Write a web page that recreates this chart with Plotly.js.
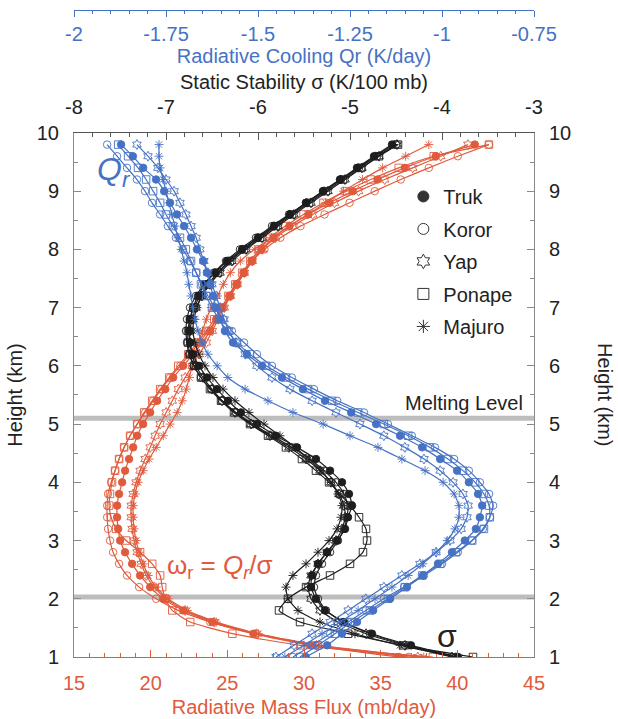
<!DOCTYPE html>
<html><head><meta charset="utf-8">
<script src="https://cdn.plot.ly/plotly-3.0.1.min.js"></script>
<style>html,body{margin:0;padding:0;background:#fff}#chart{width:618px;height:719px}</style>
</head><body><div id="chart"></div>
<script>
// Heights (km)
const heights = [1.0,1.2,1.4,1.6,1.8,2.0,2.2,2.4,2.6,2.8,3.0,3.2,3.4,3.6,3.8,4.0,4.2,4.4,4.6,4.8,5.0,5.2,5.4,5.6,5.8,6.0,6.2,6.4,6.6,6.8,7.0,7.2,7.4,7.6,7.8,8.0,8.2,8.4,8.6,8.8,9.0,9.2,9.4,9.6,9.8];
const stations = ['Truk','Koror','Yap','Ponape','Majuro'];
const stationSymbols = ['circle','circle-open','hexagram-open','square-open','asterisk-open'];

// Radiative cooling Qr (K/day)
const qrTruk = [-1.370,-1.312,-1.272,-1.231,-1.187,-1.141,-1.095,-1.052,-1.011,-0.973,-0.938,-0.908,-0.897,-0.891,-0.902,-0.927,-0.959,-1.005,-1.054,-1.114,-1.179,-1.247,-1.318,-1.378,-1.435,-1.489,-1.530,-1.568,-1.590,-1.603,-1.614,-1.622,-1.630,-1.639,-1.649,-1.666,-1.682,-1.701,-1.720,-1.739,-1.755,-1.777,-1.812,-1.840,-1.872];
const qrKoror = [-1.405,-1.353,-1.304,-1.255,-1.207,-1.158,-1.103,-1.049,-1.000,-0.957,-0.918,-0.889,-0.870,-0.861,-0.872,-0.897,-0.927,-0.967,-1.019,-1.082,-1.147,-1.212,-1.285,-1.348,-1.408,-1.462,-1.503,-1.538,-1.571,-1.595,-1.617,-1.636,-1.652,-1.668,-1.685,-1.704,-1.723,-1.745,-1.766,-1.788,-1.807,-1.829,-1.856,-1.883,-1.910];
const qrYap = [-1.451,-1.402,-1.353,-1.304,-1.255,-1.207,-1.158,-1.109,-1.060,-1.016,-0.978,-0.948,-0.932,-0.929,-0.943,-0.970,-1.005,-1.049,-1.101,-1.158,-1.223,-1.288,-1.353,-1.413,-1.462,-1.503,-1.535,-1.560,-1.579,-1.592,-1.603,-1.614,-1.625,-1.636,-1.647,-1.658,-1.668,-1.682,-1.696,-1.712,-1.728,-1.750,-1.772,-1.799,-1.829];
const qrPonape = [-1.386,-1.337,-1.291,-1.245,-1.196,-1.147,-1.101,-1.054,-1.005,-0.962,-0.918,-0.886,-0.870,-0.872,-0.886,-0.910,-0.943,-0.984,-1.033,-1.092,-1.158,-1.228,-1.299,-1.364,-1.424,-1.478,-1.522,-1.557,-1.584,-1.606,-1.625,-1.641,-1.655,-1.668,-1.682,-1.696,-1.712,-1.731,-1.750,-1.766,-1.785,-1.804,-1.826,-1.853,-1.880];
const qrMajuro = [-1.427,-1.375,-1.326,-1.277,-1.228,-1.182,-1.136,-1.092,-1.052,-1.016,-0.986,-0.965,-0.954,-0.954,-0.967,-0.997,-1.046,-1.109,-1.174,-1.250,-1.323,-1.405,-1.473,-1.535,-1.582,-1.611,-1.636,-1.652,-1.663,-1.671,-1.677,-1.682,-1.688,-1.693,-1.701,-1.709,-1.717,-1.726,-1.734,-1.742,-1.750,-1.758,-1.766,-1.769,-1.769];

// Static stability sigma (K/100 mb)
const sigmaTruk = [-3.826,-4.337,-4.761,-5.065,-5.272,-5.370,-5.424,-5.413,-5.348,-5.250,-5.141,-5.054,-5.022,-4.978,-5.011,-5.087,-5.217,-5.370,-5.576,-5.804,-6.011,-6.185,-6.326,-6.446,-6.554,-6.641,-6.707,-6.739,-6.750,-6.739,-6.707,-6.652,-6.576,-6.467,-6.337,-6.174,-6.000,-5.826,-5.652,-5.478,-5.293,-5.109,-4.924,-4.739,-4.543];
const sigmaKoror = [-3.859,-4.370,-4.783,-5.076,-5.261,-5.348,-5.391,-5.370,-5.304,-5.217,-5.130,-5.065,-5.033,-5.022,-5.065,-5.152,-5.283,-5.435,-5.630,-5.848,-6.054,-6.239,-6.391,-6.511,-6.620,-6.696,-6.750,-6.772,-6.783,-6.772,-6.739,-6.674,-6.587,-6.478,-6.348,-6.196,-6.022,-5.848,-5.663,-5.478,-5.293,-5.098,-4.902,-4.707,-4.500];
const sigmaYap = [-3.891,-4.402,-4.826,-5.130,-5.326,-5.424,-5.457,-5.424,-5.348,-5.250,-5.152,-5.087,-5.054,-5.065,-5.120,-5.207,-5.326,-5.478,-5.663,-5.870,-6.076,-6.250,-6.391,-6.500,-6.598,-6.674,-6.717,-6.739,-6.739,-6.717,-6.674,-6.609,-6.522,-6.413,-6.283,-6.130,-5.957,-5.783,-5.609,-5.424,-5.239,-5.054,-4.870,-4.685,-4.489];
const sigmaPonape = [-3.663,-4.424,-5.022,-5.543,-5.772,-5.674,-5.478,-5.217,-5.000,-4.859,-4.815,-4.826,-4.902,-5.000,-5.109,-5.228,-5.370,-5.522,-5.696,-5.891,-6.087,-6.261,-6.402,-6.522,-6.620,-6.696,-6.739,-6.761,-6.761,-6.739,-6.696,-6.630,-6.543,-6.435,-6.304,-6.152,-5.978,-5.804,-5.630,-5.446,-5.261,-5.076,-4.880,-4.685,-4.478];
const sigmaMajuro = [-3.848,-4.457,-4.946,-5.326,-5.565,-5.674,-5.696,-5.620,-5.478,-5.348,-5.228,-5.141,-5.098,-5.087,-5.130,-5.207,-5.315,-5.446,-5.598,-5.761,-5.935,-6.098,-6.250,-6.380,-6.489,-6.576,-6.641,-6.685,-6.707,-6.696,-6.663,-6.609,-6.533,-6.435,-6.315,-6.163,-6.000,-5.826,-5.652,-5.467,-5.283,-5.098,-4.913,-4.728,-4.522];

// Radiative mass flux omega_r (mb/day)
const omegaTruk = [36.18,30.42,26.70,24.02,22.12,20.82,19.97,19.31,18.79,18.33,18.01,17.88,17.81,17.81,17.94,18.14,18.33,18.59,18.86,19.12,19.51,19.97,20.42,20.95,21.47,22.12,22.78,23.37,23.89,24.28,24.67,25.13,25.59,26.05,26.57,27.22,28.01,29.05,30.29,31.67,33.17,34.80,36.57,38.59,41.14];
const omegaKoror = [36.83,30.75,26.83,23.89,21.80,20.36,19.25,18.46,17.94,17.55,17.35,17.22,17.16,17.16,17.22,17.42,17.68,17.94,18.27,18.66,19.12,19.64,20.16,20.69,21.27,21.93,22.58,23.17,23.76,24.28,24.74,25.20,25.65,26.11,26.63,27.42,28.46,29.77,31.34,32.97,34.61,36.31,38.14,40.03,42.06];
const omegaYap = [37.42,30.82,26.90,24.15,22.25,21.01,20.23,19.71,19.38,19.12,18.92,18.79,18.73,18.73,18.86,19.05,19.31,19.64,19.97,20.29,20.62,21.01,21.41,21.80,22.25,22.71,23.17,23.63,24.02,24.41,24.80,25.20,25.65,26.11,26.63,27.29,28.14,29.25,30.56,31.99,33.56,35.26,37.09,38.92,40.69];
const omegaPonape = [38.40,29.77,25.33,22.58,21.41,20.95,20.75,20.62,20.10,19.31,18.40,17.75,17.42,17.29,17.35,17.48,17.68,17.94,18.27,18.66,19.12,19.58,20.10,20.62,21.21,21.80,22.45,23.04,23.63,24.15,24.61,25.07,25.52,25.98,26.50,27.09,27.81,28.79,29.97,31.27,32.71,34.35,36.18,38.46,42.06];
const omegaMajuro = [37.81,30.95,27.03,24.28,22.39,21.14,20.36,19.84,19.51,19.25,19.05,18.92,18.86,18.86,18.99,19.18,19.51,19.90,20.36,20.82,21.27,21.73,22.06,22.32,22.52,22.71,22.91,23.10,23.37,23.63,23.95,24.35,24.74,25.20,25.85,26.76,27.88,29.05,30.23,31.41,32.58,33.82,35.13,36.63,38.14];

// Reference levels (km): melting level and 2 km
const levelLines = [5.1, 2.03];

// Tick labels
const fluxTicks = [15,20,25,30,35,40,45];
const fluxLabels = ['15','20','25','30','35','40','45'];
const sigmaTicks = [-8,-7,-6,-5,-4,-3];
const sigmaLabels = ['-8','-7','-6','-5','-4','-3'];
const qrTicks = [-2,-1.75,-1.5,-1.25,-1,-0.75];
const qrLabels = ['-2','-1.75','-1.5','-1.25','-1','-0.75'];
const heightTicks = [1,2,3,4,5,6,7,8,9,10];
const heightLabels = ['1','2','3','4','5','6','7','8','9','10'];

const BLUE = '#4672c4', RED = '#e05a3c', BLACK = '#1e1e1e', GRAYAX = '#8a8a8a', TXT = '#222222';
const qrSeries = [qrTruk, qrKoror, qrYap, qrPonape, qrMajuro];
const sigmaSeries = [sigmaTruk, sigmaKoror, sigmaYap, sigmaPonape, sigmaMajuro];
const omegaSeries = [omegaTruk, omegaKoror, omegaYap, omegaPonape, omegaMajuro];

function curve(xs, color, sym, xaxis) {
  return {
    x: xs, y: heights, xaxis: xaxis, yaxis: 'y', type: 'scatter', mode: 'lines+markers',
    line: {color: color, width: 1.2, shape: 'spline', smoothing: 0.5},
    marker: {symbol: sym, size: 7.5, color: color, line: {color: color, width: 0.9}},
    showlegend: false, hoverinfo: 'skip'
  };
}

const traces = [];
stations.forEach((s, i) => traces.push(curve(omegaSeries[i], RED, stationSymbols[i], 'x')));
stations.forEach((s, i) => traces.push(curve(qrSeries[i], BLUE, stationSymbols[i], 'x3')));
stations.forEach((s, i) => traces.push(curve(sigmaSeries[i], BLACK, stationSymbols[i], 'x2')));
stations.forEach((s, i) => traces.push({
  x: [null], y: [null], xaxis: 'x', yaxis: 'y2', type: 'scatter', mode: 'markers',
  name: s, legendgroup: s,
  marker: {symbol: stationSymbols[i], size: 11, color: '#333', line: {color: '#333', width: 1}}
}));

const FONT = 'Liberation Sans, Arial, Helvetica, sans-serif';
const plotTop = 0.81;

const layout = {
  width: 618, height: 719,
  margin: {l: 74, r: 84, t: 10, b: 62, autoexpand: false},
  paper_bgcolor: '#ffffff', plot_bgcolor: '#ffffff',
  font: {family: FONT, size: 20, color: TXT},
  showlegend: true,
  legend: {x: 0.716, y: 0.742, xanchor: 'left', yanchor: 'top', bgcolor: 'rgba(0,0,0,0)',
           font: {size: 20, color: TXT}, tracegroupgap: 3.5, itemclick: false},
  xaxis: {
    range: [15, 45], anchor: 'y', side: 'bottom', tickmode: 'array', tickvals: fluxTicks, ticktext: fluxLabels,
    ticks: 'inside', ticklen: 7, tickwidth: 1, tickcolor: RED, showline: true, linecolor: RED, linewidth: 1,
    tickfont: {color: RED, size: 20}, ticklabelstandoff: 8,
    title: {text: 'Radiative Mass Flux (mb/day)', font: {color: RED, size: 20}, standoff: 6},
    minor: {tickmode: 'linear', tick0: 15, dtick: 1, ticks: 'inside', ticklen: 4, tickcolor: RED},
    showgrid: false, zeroline: false, automargin: false
  },
  xaxis2: {
    range: [-8, -3], overlaying: 'x', anchor: 'y', side: 'top', tickmode: 'array', tickvals: sigmaTicks, ticktext: sigmaLabels,
    ticks: 'inside', ticklen: 7, tickwidth: 1, tickcolor: '#555', showline: true, linecolor: '#555', linewidth: 1,
    tickfont: {color: TXT, size: 20}, ticklabelstandoff: 10,
    title: {text: 'Static Stability σ (K/100 mb)', font: {color: TXT, size: 20}, standoff: 0},
    minor: {tickmode: 'linear', tick0: -8, dtick: 0.2, ticks: 'inside', ticklen: 4, tickcolor: '#555'},
    showgrid: false, zeroline: false, automargin: false
  },
  xaxis3: {
    range: [-2, -0.75], overlaying: 'x', anchor: 'free', position: 1, side: 'bottom', tickmode: 'array', tickvals: qrTicks, ticktext: qrLabels,
    ticks: 'outside', ticklen: 6, tickwidth: 1, tickcolor: BLUE, showline: true, linecolor: BLUE, linewidth: 1,
    tickfont: {color: BLUE, size: 20}, ticklabelstandoff: 0,
    title: {text: 'Radiative Cooling Qr (K/day)', font: {color: BLUE, size: 20}, standoff: 0},
    minor: {tickmode: 'linear', tick0: -2, dtick: 0.05, ticks: 'outside', ticklen: 3, tickcolor: BLUE},
    showgrid: false, zeroline: false, automargin: false
  },
  yaxis: {
    range: [1, 10], domain: [0, plotTop], anchor: 'x', side: 'left', tickmode: 'array', tickvals: heightTicks, ticktext: heightLabels,
    ticks: 'inside', ticklen: 7, tickwidth: 1, tickcolor: GRAYAX, showline: true, linecolor: GRAYAX, linewidth: 1,
    tickfont: {color: TXT, size: 20}, ticklabelstandoff: 10,
    title: {text: 'Height (km)', font: {color: TXT, size: 20}, standoff: 8},
    minor: {tickmode: 'linear', tick0: 1, dtick: 0.5, ticks: 'inside', ticklen: 4, tickcolor: GRAYAX},
    showgrid: false, zeroline: false, automargin: false
  },
  yaxis2: {
    range: [1, 10], overlaying: 'y', anchor: 'x', side: 'right', tickmode: 'array', tickvals: heightTicks, ticktext: heightLabels,
    ticks: 'inside', ticklen: 7, tickwidth: 1, tickcolor: GRAYAX, showline: true, linecolor: GRAYAX, linewidth: 1,
    tickfont: {color: TXT, size: 20}, ticklabelstandoff: 10,
    minor: {tickmode: 'linear', tick0: 1, dtick: 0.5, ticks: 'inside', ticklen: 4, tickcolor: GRAYAX},
    showgrid: false, zeroline: false, automargin: false
  },
  shapes: levelLines.map(v => ({
    type: 'line', xref: 'paper', x0: 0, x1: 1, yref: 'y', y0: v, y1: v,
    line: {color: '#bdbdbd', width: 5}, layer: 'below'
  })),
  annotations: [
    {xref: 'x', yref: 'y', x: 17.6, y: 9.33, text: '<i>Q<sub>r</sub></i>', showarrow: false,
     font: {size: 32, color: BLUE}},
    {xref: 'x', yref: 'y', x: 24.5, y: 2.55, text: 'ω<sub>r</sub> = <i>Q<sub>r</sub></i>/σ', showarrow: false,
     font: {size: 26, color: RED}},
    {xref: 'x', yref: 'y', x: 39.3, y: 1.36, text: 'σ', showarrow: false, font: {size: 32, color: TXT}},
    {xref: 'x', yref: 'y', x: 44.4, y: 5.36, xanchor: 'right', text: 'Melting Level', showarrow: false,
     font: {size: 20, color: TXT}},
    {xref: 'paper', yref: 'paper', x: 1.154, y: plotTop / 2, xanchor: 'center', yanchor: 'middle',
     text: 'Height (km)', textangle: 90, showarrow: false, font: {size: 20, color: TXT}}
  ]
};

Plotly.newPlot('chart', traces, layout, {staticPlot: true, displayModeBar: false});
</script>
</body></html>
